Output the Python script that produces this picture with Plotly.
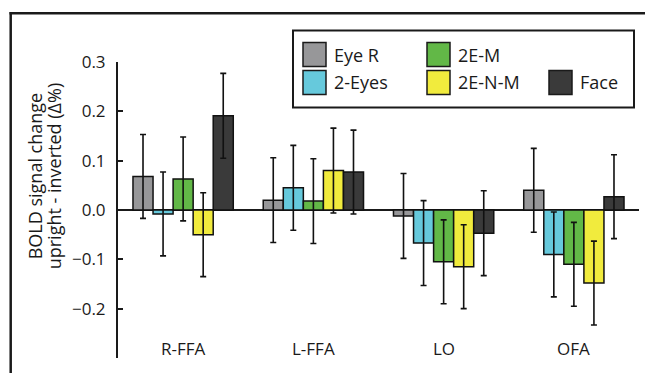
import plotly.graph_objects as go

regions = ["R-FFA", "L-FFA", "LO", "OFA"]
series = ["Eye R", "2-Eyes", "2E-M", "2E-N-M", "Face"]
values = {
    "Eye R":  [0.068, 0.020, -0.012, 0.040],
    "2-Eyes": [-0.008, 0.045, -0.067, -0.090],
    "2E-M":   [0.063, 0.018, -0.105, -0.110],
    "2E-N-M": [-0.050, 0.080, -0.115, -0.148],
    "Face":   [0.191, 0.077, -0.047, 0.027],
}
errors = {
    "Eye R":  [0.085, 0.086, 0.086, 0.085],
    "2-Eyes": [0.085, 0.086, 0.086, 0.086],
    "2E-M":   [0.085, 0.086, 0.085, 0.085],
    "2E-N-M": [0.085, 0.086, 0.085, 0.085],
    "Face":   [0.086, 0.085, 0.086, 0.085],
}
colors = {
    "Eye R": "#979799",
    "2-Eyes": "#66c9dc",
    "2E-M": "#62b847",
    "2E-N-M": "#f1eb3d",
    "Face": "#3a3a3a",
}
ytickvals = [0.3, 0.2, 0.1, 0.0, -0.1, -0.2, -0.3]
yticktext = ["0.3", "0.2", "0.1", "0.0", "\u22120.1", "\u22120.2", ""]
ytitle_lines = ["BOLD signal change", "upright - inverted (\u0394%)"]

W, H = 645, 373
# plot area in page pixels: x 118..639, y 61.5..358
X0, X1, Y0, Y1 = 118, 639, 61.5, 358
ML, MR, MT, MB = X0, W - X1, Y0, H - Y1
PW, PH = X1 - X0, Y1 - Y0

def px(x):
    return (x - X0) / PW

def py(y):
    return (Y1 - y) / PH

FONT = "Open Sans"
INK = "#1a1a1a"

fig = go.Figure()
for s in series:
    fig.add_trace(go.Bar(
        x=regions, y=values[s], name=s, showlegend=False,
        marker=dict(color=colors[s], line=dict(color="#111111", width=1.5)),
        error_y=dict(type="data", array=errors[s], visible=True,
                     color="#111111", thickness=1.6, width=3),
    ))

shapes = []
annotations = []
# outer frame (top and left)
shapes.append(dict(type="line", xref="paper", yref="paper",
                   x0=px(9.5), x1=px(650), y0=py(12.7), y1=py(12.7),
                   line=dict(color=INK, width=2.5)))
shapes.append(dict(type="line", xref="paper", yref="paper",
                   x0=px(10.7), x1=px(10.7), y0=py(11.5), y1=py(380),
                   line=dict(color=INK, width=2.5)))
# legend box
shapes.append(dict(type="rect", xref="paper", yref="paper",
                   x0=px(293), x1=px(634), y0=py(30), y1=py(107),
                   line=dict(color=INK, width=2), fillcolor="white"))
legend_items = [
    ("Eye R", 303, 54), ("2-Eyes", 303, 82),
    ("2E-M", 427, 54), ("2E-N-M", 427, 82),
    ("Face", 549, 82),
]
for name, lx, ly in legend_items:
    shapes.append(dict(type="rect", xref="paper", yref="paper",
                       x0=px(lx), x1=px(lx + 23), y0=py(ly - 12), y1=py(ly + 12),
                       line=dict(color=INK, width=1.5), fillcolor=colors[name]))
    annotations.append(dict(text=name, xref="paper", yref="paper",
                            x=px(lx + 29), y=py(ly), xanchor="left", yanchor="middle",
                            showarrow=False, font=dict(family=FONT, size=18, color=INK)))
# category labels
for r in regions:
    annotations.append(dict(text=r, xref="x", yref="paper", x=r, y=py(348),
                            xanchor="center", yanchor="middle", showarrow=False,
                            font=dict(family=FONT, size=17, color=INK)))
# y axis title (two lines)
for line_text, lx in zip(ytitle_lines, [35, 54]):
    annotations.append(dict(text=line_text, xref="paper", yref="paper",
                            x=px(lx), y=py(176), xanchor="center", yanchor="middle",
                            textangle=-90, showarrow=False,
                            font=dict(family=FONT, size=18, color=INK)))

fig.update_layout(
    width=W, height=H,
    margin=dict(l=ML, r=MR, t=MT, b=MB, pad=0),
    paper_bgcolor="white", plot_bgcolor="white",
    barmode="group", bargap=0.23, bargroupgap=0,
    showlegend=False,
    shapes=shapes, annotations=annotations,
    xaxis=dict(showticklabels=False, ticks="", showline=False, showgrid=False,
               zeroline=False, range=[-0.5, 3.5]),
    yaxis=dict(range=[-0.3, 0.3], tickvals=ytickvals, ticktext=yticktext,
               showline=True, linecolor=INK, linewidth=2,
               ticks="inside", ticklen=5, tickwidth=1.5, tickcolor=INK,
               showgrid=False, zeroline=True, zerolinecolor=INK, zerolinewidth=1.5,
               ticklabelstandoff=7,
               tickfont=dict(family=FONT, size=17, color=INK)),
)

fig.write_html(
    "out.html",
    config={"displayModeBar": False},
    post_script="document.body.style.margin='0';document.body.style.overflow='hidden';",
)
